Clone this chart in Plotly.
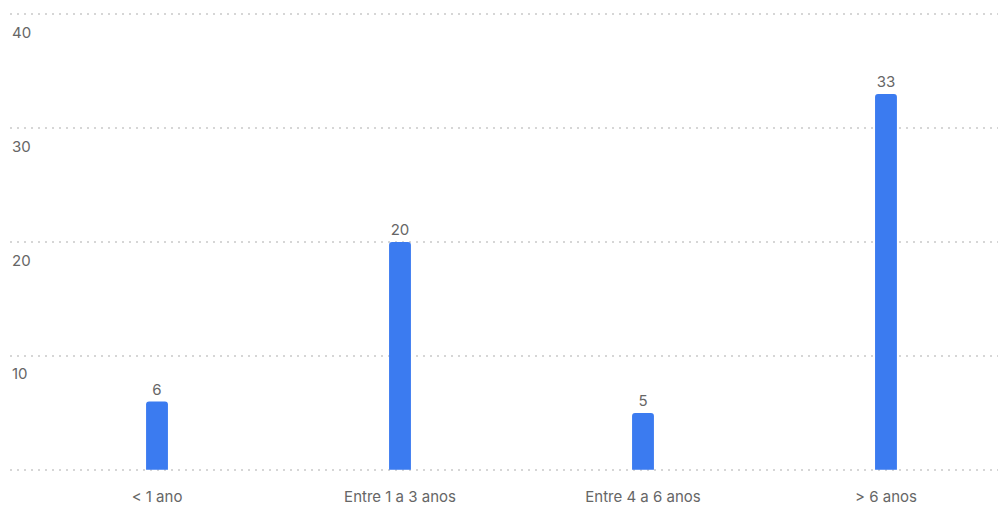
import plotly.graph_objects as go

# Tempo de casa (anos) – contagem de respostas
categorias = ["< 1 ano", "Entre 1 a 3 anos", "Entre 4 a 6 anos", "> 6 anos"]
valores = [6, 20, 5, 33]
y_ticks = [0, 10, 20, 30, 40]
y_tick_labels = ["", "10", "20", "30", "40"]

font_family = "Inter, 'Liberation Sans', Arial, sans-serif"
text_color = "#666666"

fig = go.Figure(
    go.Bar(
        x=categorias,
        y=valores,
        width=0.09,
        marker=dict(color="#3B7BF0", line=dict(width=0)),
        text=[str(v) for v in valores],
        textposition="outside",
        cliponaxis=False,
        textfont=dict(size=15, color=text_color, family=font_family),
        hoverinfo="x+y",
    )
)

# y tick labels sit just below their gridline, flush with the left edge
for val, lab in zip(y_ticks, y_tick_labels):
    if lab:
        fig.add_annotation(
            x=0, xref="paper", xanchor="left",
            y=val, yref="y", yanchor="middle", yshift=-18,
            text=lab, showarrow=False,
            font=dict(size=15, color=text_color, family=font_family),
        )

fig.update_layout(
    width=998,
    height=505,
    margin=dict(l=10, r=0, t=13, b=34, autoexpand=False),
    plot_bgcolor="white",
    paper_bgcolor="white",
    barcornerradius=3,
    showlegend=False,
    font=dict(family=font_family, size=15, color=text_color),
)

fig.update_xaxes(
    range=[-0.605, 3.461],
    automargin=False,
    showgrid=False,
    showline=False,
    zeroline=False,
    ticks="",
    ticklabelstandoff=15,
    tickfont=dict(size=15, color=text_color),
)

fig.update_yaxes(
    range=[-0.1, 40.1],
    automargin=False,
    tickvals=y_ticks,
    showticklabels=False,
    showgrid=True,
    gridcolor="#d6d6d6",
    gridwidth=2,
    griddash="2px,5px",
    zeroline=False,
    showline=False,
    ticks="",
)

fig.write_html("out.html")
